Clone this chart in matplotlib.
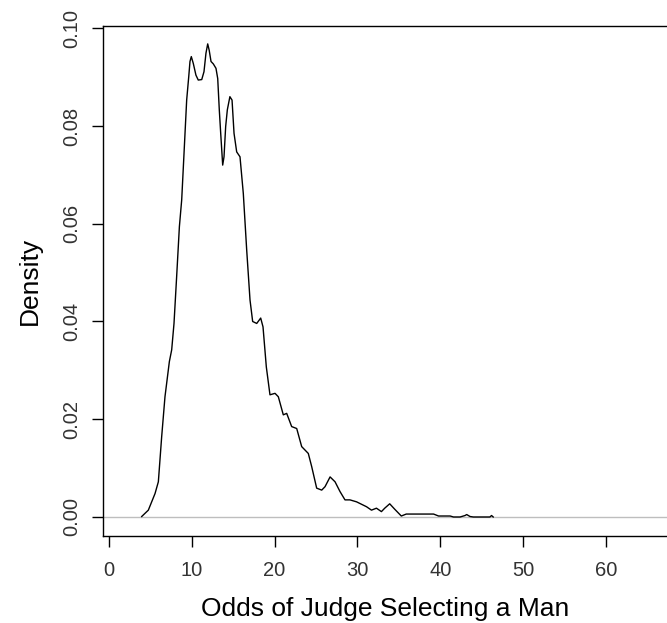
import numpy as np
import matplotlib
matplotlib.use("Agg")
import matplotlib.pyplot as plt

plt.rcParams['font.family'] = ['Liberation Sans', 'DejaVu Sans']

# density curve
odds = [3.95, 4.75, 5.56, 5.96, 6.36, 6.76, 7.29, 7.57, 7.85, 8.17, 8.5, 8.78,
        9.06, 9.38, 9.63, 9.78, 9.94, 10.18, 10.5, 10.78, 11.2, 11.47, 11.71,
        11.92, 12.1, 12.32, 12.6, 12.92, 13.13, 13.32, 13.49, 13.73, 13.89,
        14.09, 14.29, 14.6, 14.86, 15.1, 15.42, 15.82, 16.22, 16.63, 17.03,
        17.35, 17.84, 18.32, 18.6, 19.0, 19.44, 20.05, 20.45, 21.05, 21.46,
        22.06, 22.67, 23.27, 24.07, 24.48, 25.08, 25.69, 26.09, 26.7, 27.3,
        27.9, 28.5, 29.1, 29.9, 31.1, 31.7, 32.3, 32.9, 33.3, 33.9, 34.5,
        35.3, 35.9, 39.2, 39.8, 41.2, 41.6, 42.4, 43.0, 43.2, 43.6, 44.0,
        46.0, 46.2, 46.4]
density = [0.0001, 0.0014, 0.0048, 0.0072, 0.0164, 0.0246, 0.0318, 0.0342,
           0.0396, 0.0492, 0.0594, 0.0649, 0.0744, 0.0853, 0.0901, 0.0932,
           0.0942, 0.0928, 0.0904, 0.0894, 0.0895, 0.0911, 0.0949, 0.0968,
           0.0955, 0.0932, 0.0927, 0.0918, 0.0897, 0.0833, 0.0785, 0.0720,
           0.0737, 0.0799, 0.0833, 0.0860, 0.0853, 0.0785, 0.0747, 0.0737,
           0.0662, 0.0546, 0.0444, 0.0400, 0.0396, 0.0407, 0.0389, 0.0307,
           0.0250, 0.0253, 0.0246, 0.0209, 0.0212, 0.0185, 0.0181, 0.0144,
           0.0130, 0.0103, 0.0059, 0.0055, 0.0062, 0.0082, 0.0072, 0.0052,
           0.0035, 0.0035, 0.0031, 0.0021, 0.0014, 0.0018, 0.0011, 0.0018,
           0.0027, 0.0016, 0.0002, 0.0006, 0.0006, 0.0002, 0.0002, 0.0,
           0.0, 0.0003, 0.0005, 0.0001, 0.0, 0.0, 0.0003, 0.0]

xticks = [0, 10, 20, 30, 40, 50, 60]
yticks = [0.00, 0.02, 0.04, 0.06, 0.08, 0.10]

fig = plt.figure(figsize=(6.67, 6.23), dpi=100)
ax = fig.add_axes([103 / 667, 87 / 623, 1 - 103 / 667, 510 / 623])

ax.axhline(0, color='#bebebe', lw=1.0, zorder=1)
ax.plot(odds, density, color='black', lw=1.0, zorder=2)

ax.set_xlim(-0.725, 67.39)
ax.set_ylim(-0.00389, 0.10046)
ax.spines['right'].set_visible(False)
for s in ['left', 'bottom', 'top']:
    ax.spines[s].set_linewidth(1.0)

ax.set_xticks(xticks)
ax.set_xticklabels([str(t) for t in xticks])
ax.set_yticks(yticks)
ax.set_yticklabels(['%.2f' % t for t in yticks], rotation=90, va='center')
ax.tick_params(axis='both', direction='out', length=8, width=1.0,
               labelsize=14.5, labelcolor='#333333')
ax.tick_params(axis='x', pad=10)
ax.tick_params(axis='y', pad=8)

ax.set_xlabel('Odds of Judge Selecting a Man', fontsize=19, labelpad=12)
ax.set_ylabel('Density', fontsize=19, labelpad=14)

fig.savefig('out.png', dpi=100)
